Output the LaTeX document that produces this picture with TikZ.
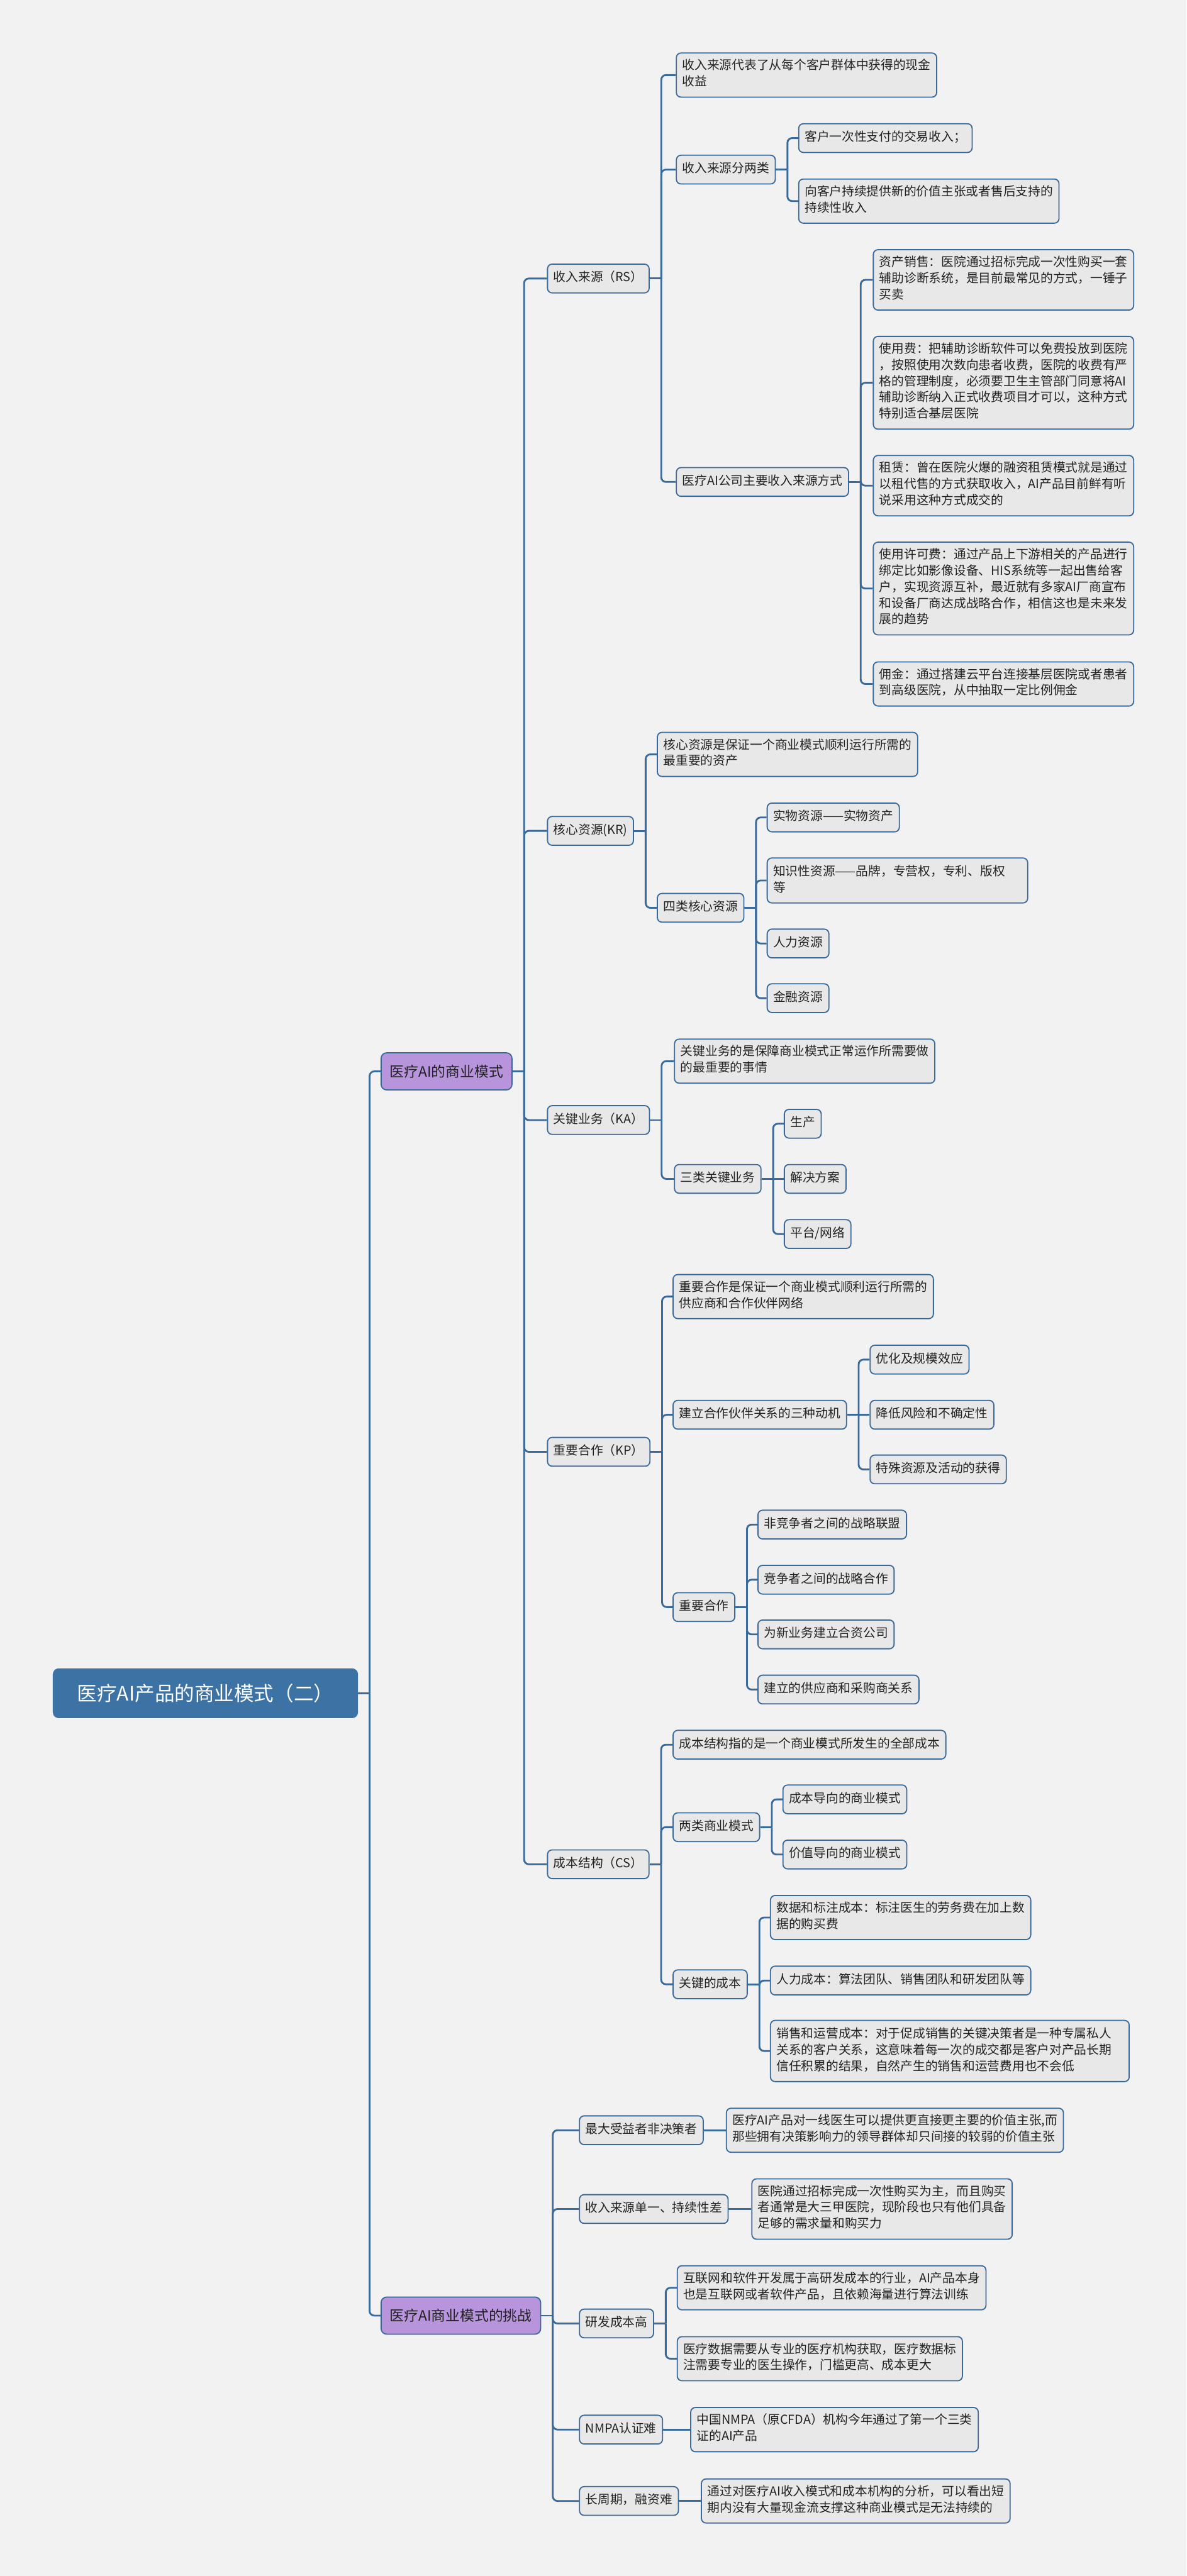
\documentclass[tikz,border=0pt]{standalone}
\usepackage{fontspec}
\setmainfont{Noto Sans CJK SC}
\usepackage{tikz}
\usetikzlibrary{calc}
\definecolor{bgc}{HTML}{F2F2F2}
\definecolor{edge}{HTML}{3A6A9A}
\definecolor{boxc}{HTML}{E8E8E8}
\definecolor{rootc}{HTML}{3D72A5}
\definecolor{topicc}{HTML}{B794DB}
\definecolor{ink}{HTML}{222222}
\tikzset{
    rootbox/.style={fill=rootc, draw=rootc, rounded corners=0.12cm, text=white,
        font=\fontsize{12.2}{14}\selectfont, minimum width=6.57cm, minimum height=1.06cm, anchor=west},
    topic/.style={fill=topicc, draw=edge, line width=0.7pt, rounded corners=0.12cm, text=ink,
        font=\fontsize{8.8}{10.5}\selectfont, inner xsep=0.19cm, minimum height=0.8cm, anchor=west},
    item/.style={fill=boxc, draw=edge, line width=0.7pt, rounded corners=0.1cm, text=ink,
        font=\fontsize{7.62}{9.96}\selectfont, inner xsep=0.13cm, inner ysep=0.135cm,
        align=left, anchor=west, execute at begin node=\strut, execute at end node=\strut},
    link/.style={draw=edge, line width=1.1pt, rounded corners=0.1cm}
}
% 父节点 -> 子节点
\newcommand\branch[2]{%
    \draw[link] (#1.east) -- ++(0.25,0) coordinate (#1j);
    \foreach \kid in {#2}{\draw[link] (#1j) |- (\kid.west);}
}
\begin{document}
\begin{tikzpicture}
    \fill[bgc] (0,0) rectangle (25.6,-55.59);
    \useasboundingbox (0,0) rectangle (25.6,-55.59);

    \node[rootbox] (root) at (1.14,-36.54) {医疗AI产品的商业模式（二）};
    \node[topic] (a) at (8.21,-23.12) {医疗AI的商业模式};
    \node[topic] (b) at (8.21,-49.97) {医疗AI商业模式的挑战};

    \node[item] (rs) at (11.80,-6.01) {收入来源（RS）};
    \node[item] (kr) at (11.80,-17.93) {核心资源(KR)};
    \node[item] (ka) at (11.80,-24.17) {关键业务（KA）};
    \node[item] (kp) at (11.80,-31.33) {重要合作（KP）};
    \node[item] (cs) at (11.80,-40.23) {成本结构（CS）};

    % 收入来源
    \node[item] (rs1) at (14.58,-1.62) {收入来源代表了从每个客户群体中获得的现金\\收益};
    \node[item] (rs2) at (14.58,-3.66) {收入来源分两类};
    \node[item] (rs3) at (14.58,-10.40) {医疗AI公司主要收入来源方式};
    \node[item] (rs21) at (17.22,-2.98) {客户一次性支付的交易收入；};
    \node[item] (rs22) at (17.22,-4.34) {向客户持续提供新的价值主张或者售后支持的\\持续性收入};
    \node[item] (rs31) at (18.83,-6.04) {资产销售：医院通过招标完成一次性购买一套\\辅助诊断系统，是目前最常见的方式，一锤子\\买卖};
    \node[item] (rs32) at (18.83,-8.26) {使用费：把辅助诊断软件可以免费投放到医院\\，按照使用次数向患者收费，医院的收费有严\\格的管理制度，必须要卫生主管部门同意将AI\\辅助诊断纳入正式收费项目才可以，这种方式\\特别适合基层医院};
    \node[item] (rs33) at (18.83,-10.48) {租赁：曾在医院火爆的融资租赁模式就是通过\\以租代售的方式获取收入，AI产品目前鲜有听\\说采用这种方式成交的};
    \node[item] (rs34) at (18.83,-12.70) {使用许可费：通过产品上下游相关的产品进行\\绑定比如影像设备、HIS系统等一起出售给客\\户，实现资源互补，最近就有多家AI厂商宣布\\和设备厂商达成战略合作，相信这也是未来发\\展的趋势};
    \node[item] (rs35) at (18.83,-14.76) {佣金：通过搭建云平台连接基层医院或者患者\\到高级医院，从中抽取一定比例佣金};

    % 核心资源
    \node[item] (kr1) at (14.17,-16.28) {核心资源是保证一个商业模式顺利运行所需的\\最重要的资产};
    \node[item] (kr2) at (14.17,-19.59) {四类核心资源};
    \node[item] (kr21) at (16.54,-17.64) {实物资源——实物资产};
    \node[item, text width=5.36cm] (kr22) at (16.54,-19.00) {知识性资源——品牌，专营权，专利、版权\\等};
    \node[item] (kr23) at (16.54,-20.36) {人力资源};
    \node[item] (kr24) at (16.54,-21.54) {金融资源};

    % 关键业务
    \node[item] (ka1) at (14.54,-22.90) {关键业务的是保障商业模式正常运作所需要做\\的最重要的事情};
    \node[item] (ka2) at (14.54,-25.44) {三类关键业务};
    \node[item] (ka21) at (16.91,-24.25) {生产};
    \node[item] (ka22) at (16.91,-25.44) {解决方案};
    \node[item] (ka23) at (16.91,-26.63) {平台/网络};

    % 重要合作
    \node[item] (kp1) at (14.51,-27.98) {重要合作是保证一个商业模式顺利运行所需的\\供应商和合作伙伴网络};
    \node[item] (kp2) at (14.51,-30.53) {建立合作伙伴关系的三种动机};
    \node[item] (kp3) at (14.51,-34.68) {重要合作};
    \node[item] (kp21) at (18.76,-29.34) {优化及规模效应};
    \node[item] (kp22) at (18.76,-30.53) {降低风险和不确定性};
    \node[item] (kp23) at (18.76,-31.71) {特殊资源及活动的获得};
    \node[item] (kp31) at (16.34,-32.90) {非竞争者之间的战略联盟};
    \node[item] (kp32) at (16.34,-34.09) {竞争者之间的战略合作};
    \node[item] (kp33) at (16.34,-35.27) {为新业务建立合资公司};
    \node[item] (kp34) at (16.34,-36.46) {建立的供应商和采购商关系};

    % 成本结构
    \node[item] (cs1) at (14.51,-37.65) {成本结构指的是一个商业模式所发生的全部成本};
    \node[item] (cs2) at (14.51,-39.43) {两类商业模式};
    \node[item] (cs3) at (14.51,-42.82) {关键的成本};
    \node[item] (cs21) at (16.88,-38.83) {成本导向的商业模式};
    \node[item] (cs22) at (16.88,-40.02) {价值导向的商业模式};
    \node[item] (cs31) at (16.61,-41.38) {数据和标注成本：标注医生的劳务费在加上数\\据的购买费};
    \node[item] (cs32) at (16.61,-42.74) {人力成本：算法团队、销售团队和研发团队等};
    \node[item, text width=7.48cm] (cs33) at (16.61,-44.26) {销售和运营成本：对于促成销售的关键决策者是一种专属私人\\关系的客户关系，这意味着每一次的成交都是客户对产品长期\\信任积累的结果，自然产生的销售和运营费用也不会低};

    % 挑战
    \node[item] (b1) at (12.49,-45.97) {最大受益者非决策者};
    \node[item] (b2) at (12.49,-47.67) {收入来源单一、持续性差};
    \node[item] (b3) at (12.49,-50.14) {研发成本高};
    \node[item] (b4) at (12.49,-52.43) {NMPA认证难};
    \node[item] (b5) at (12.49,-53.97) {长周期，融资难};
    \node[item] (b11) at (15.66,-45.97) {医疗AI产品对一线医生可以提供更直接更主要的价值主张,而\\那些拥有决策影响力的领导群体却只间接的较弱的价值主张};
    \node[item] (b21) at (16.21,-47.67) {医院通过招标完成一次性购买为主，而且购买\\者通常是大三甲医院，现阶段也只有他们具备\\足够的需求量和购买力};
    \node[item] (b31) at (14.60,-49.37) {互联网和软件开发属于高研发成本的行业，AI产品本身\\也是互联网或者软件产品，且依赖海量进行算法训练};
    \node[item] (b32) at (14.60,-50.90) {医疗数据需要从专业的医疗机构获取，医疗数据标\\注需要专业的医生操作，门槛更高、成本更大};
    \node[item] (b41) at (14.89,-52.43) {中国NMPA（原CFDA）机构今年通过了第一个三类\\证的AI产品};
    \node[item] (b51) at (15.12,-53.97) {通过对医疗AI收入模式和成本机构的分析，可以看出短\\期内没有大量现金流支撑这种商业模式是无法持续的};

    \branch{root}{a,b}
    \branch{a}{rs,kr,ka,kp,cs}
    \branch{rs}{rs1,rs2,rs3}
    \branch{rs2}{rs21,rs22}
    \branch{rs3}{rs31,rs32,rs33,rs34,rs35}
    \branch{kr}{kr1,kr2}
    \branch{kr2}{kr21,kr22,kr23,kr24}
    \branch{ka}{ka1,ka2}
    \branch{ka2}{ka21,ka23}
    \draw[link] (ka2.east) -- (ka22.west);
    \branch{kp}{kp1,kp2,kp3}
    \branch{kp2}{kp21,kp23}
    \draw[link] (kp2.east) -- (kp22.west);
    \branch{kp3}{kp31,kp32,kp33,kp34}
    \branch{cs}{cs1,cs2,cs3}
    \branch{cs2}{cs21,cs22}
    \branch{cs3}{cs31,cs32,cs33}
    \branch{b}{b1,b2,b3,b4,b5}
    \branch{b3}{b31,b32}
    % 单个子节点直接相连
    \draw[link] (b1.east) -- (b11.west);
    \draw[link] (b2.east) -- (b21.west);
    \draw[link] (b4.east) -- (b41.west);
    \draw[link] (b5.east) -- (b51.west);
\end{tikzpicture}
\end{document}
